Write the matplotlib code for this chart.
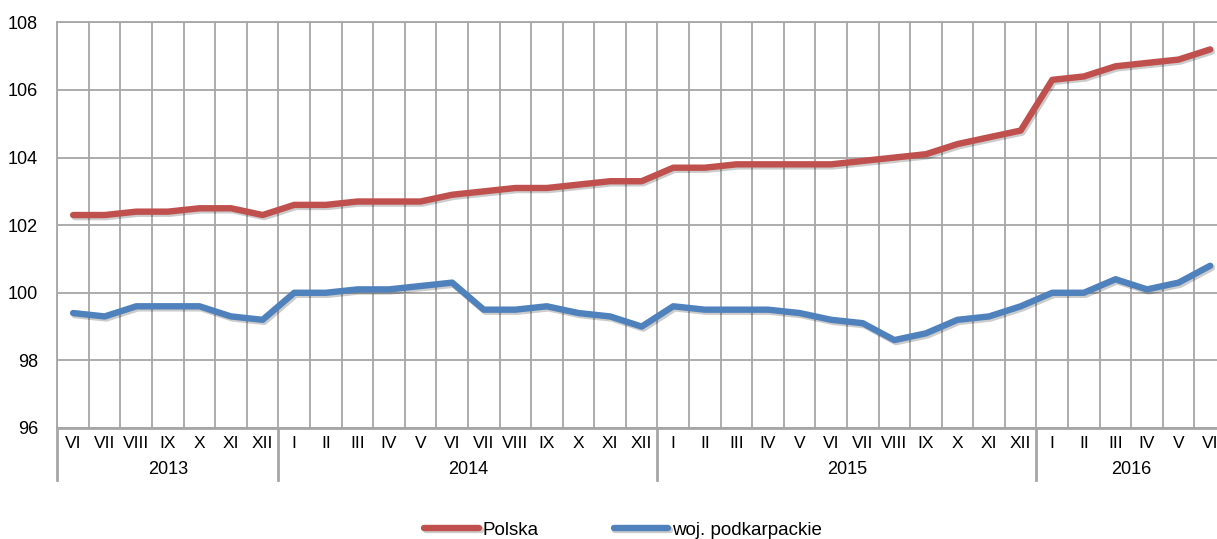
import numpy as np
import matplotlib
matplotlib.use("Agg")
import matplotlib.pyplot as plt
import matplotlib.patheffects as pe

plt.rcParams['font.family'] = ['Liberation Sans', 'DejaVu Sans']

# Data (index, previous year = 100)
months = ["VI", "VII", "VIII", "IX", "X", "XI", "XII",
          "I", "II", "III", "IV", "V", "VI", "VII", "VIII", "IX", "X", "XI", "XII",
          "I", "II", "III", "IV", "V", "VI", "VII", "VIII", "IX", "X", "XI", "XII",
          "I", "II", "III", "IV", "V", "VI"]
years = ["2013", "2014", "2015", "2016"]
months_per_year = [7, 12, 12, 6]

polska = [102.3, 102.3, 102.4, 102.4, 102.5, 102.5, 102.3,
          102.6, 102.6, 102.7, 102.7, 102.7, 102.9, 103.0, 103.1, 103.1, 103.2, 103.3, 103.3,
          103.7, 103.7, 103.8, 103.8, 103.8, 103.8, 103.9, 104.0, 104.1, 104.4, 104.6, 104.8,
          106.3, 106.4, 106.7, 106.8, 106.9, 107.2]
podkarpackie = [99.4, 99.3, 99.6, 99.6, 99.6, 99.3, 99.2,
                100.0, 100.0, 100.1, 100.1, 100.2, 100.3, 99.5, 99.5, 99.6, 99.4, 99.3, 99.0,
                99.6, 99.5, 99.5, 99.5, 99.4, 99.2, 99.1, 98.6, 98.8, 99.2, 99.3, 99.6,
                100.0, 100.0, 100.4, 100.1, 100.3, 100.8]

grid_col = "#a6a6a6"
fig = plt.figure(figsize=(12.17, 5.39), dpi=100)
ax = fig.add_axes([0.0471, 0.206, 0.9603, 0.7525])

x = np.arange(len(months))
shadow = [pe.SimpleLineShadow(offset=(1.2, -1.5), alpha=0.2), pe.Normal()]
ax.plot(x, polska, color="#c0504d", lw=4.6, label="Polska",
        solid_capstyle="round", path_effects=shadow, zorder=3)
ax.plot(x, podkarpackie, color="#4f81bd", lw=4.6, label="woj. podkarpackie",
        solid_capstyle="round", path_effects=shadow, zorder=3)

ax.set_xlim(-0.5, len(months) - 0.5)
ax.set_ylim(96, 108)
ax.set_yticks(np.arange(96, 109, 2))
ax.tick_params(axis="y", length=0, pad=14, labelsize=13)

# vertical grid at category boundaries
ax.set_xticks(x - 0.5, minor=True)
ax.set_xticks(x)
ax.set_xticklabels(months, fontsize=12.5)
ax.tick_params(axis="x", which="both", length=0, pad=6)
ax.grid(True, which="minor", axis="x", color=grid_col, lw=1.3)
ax.grid(True, which="major", axis="y", color=grid_col, lw=1.3)
ax.set_axisbelow(True)
for s in ax.spines.values():
    s.set_color(grid_col)
    s.set_linewidth(1.3)
ax.spines["bottom"].set_linewidth(2)

# year labels and separators below the axis
trans = ax.get_xaxis_transform()
bounds = np.concatenate([[0], np.cumsum(months_per_year)]) - 0.5
for i, yr in enumerate(years):
    ax.text((bounds[i] + bounds[i + 1]) / 2, -0.102, yr, transform=trans,
            ha="center", va="center", fontsize=13)
for b in bounds:
    ax.plot([b, b], [0, -0.128], transform=trans, color=grid_col, lw=2, clip_on=False)

fig.legend(loc="center", bbox_to_anchor=(0.512, 0.016), ncol=2, frameon=False,
           fontsize=13.5, handlelength=2.9, handletextpad=0.2, columnspacing=4.0)

fig.savefig("out.png", dpi=100)
